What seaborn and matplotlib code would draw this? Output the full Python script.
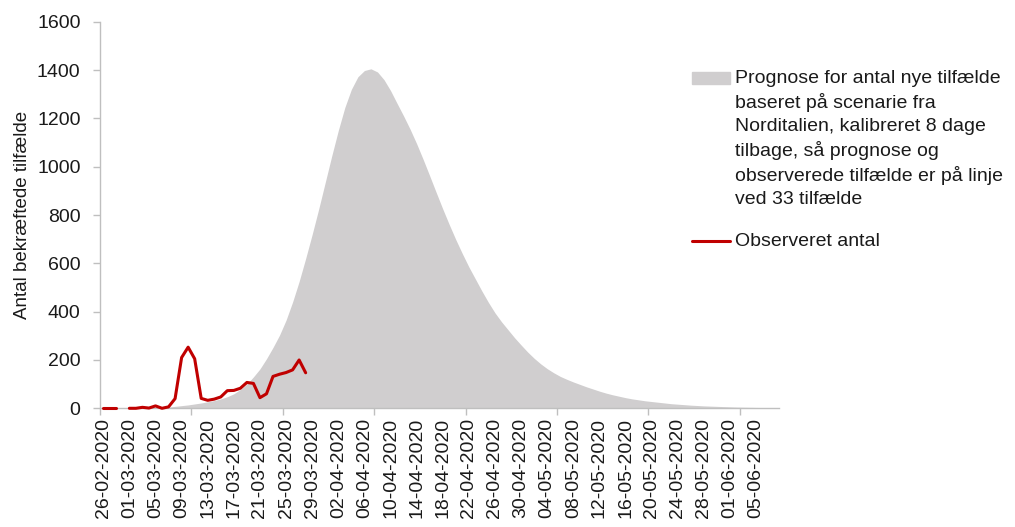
import numpy as np
import pandas as pd
import matplotlib.pyplot as plt
import seaborn as sns
from matplotlib.patches import Rectangle
from matplotlib.lines import Line2D

# days since 26-02-2020 (one category per day, 104 days)
start_date = "2020-02-26"
n_days = 104

# forecast of new cases per day (read from the grey area)
forecast = [
    0, 0, 0, 0, 0, 0, 0, 0, 0, 2,
    5, 8, 11, 14, 18, 22, 27, 32, 39, 48,
    60, 78, 100, 130, 163, 205, 252, 303, 365, 440,
    525, 620, 720, 825, 935, 1045, 1150, 1245, 1320, 1372,
    1398, 1405, 1392, 1360, 1315, 1262, 1210, 1155, 1095, 1030,
    962, 893, 825, 760, 698, 640, 585, 535, 485, 438,
    395, 358, 325, 292, 262, 233, 207, 184, 164, 147,
    132, 120, 109, 99, 89, 80, 71, 63, 56, 50,
    44, 39, 35, 31, 28, 25, 22, 19, 17, 15,
    13, 11.5, 10, 9, 8, 7, 6, 5, 4.5, 4,
    3.5, 3, 2, 1,
]

# observed cases per day (no value on 29-02)
observed = [
    0, 0, 0, np.nan, 0, 0, 4, 1, 10, 0,
    6, 40, 210, 253, 205, 41, 33, 38, 47, 73,
    74, 83, 107, 103, 44, 60, 132, 141, 148, 159,
    200, 147,
]

forecast_label = ("Prognose for antal nye tilfælde\n"
                  "baseret på scenarie fra\n"
                  "Norditalien, kalibreret 8 dage\n"
                  "tilbage, så prognose og\n"
                  "observerede tilfælde er på linje\n"
                  "ved 33 tilfælde")
observed_label = "Observeret antal"
y_label = "Antal bekræftede tilfælde"

dates = pd.date_range(start_date, periods=n_days)
day = np.arange(n_days)
df_obs = pd.DataFrame({"day": day[:len(observed)], "cases": observed})
# break the line where a value is missing
df_obs["segment"] = df_obs["cases"].isna().cumsum()
df_obs = df_obs.dropna()

sns.set_theme(style="white")
plt.rcParams["font.family"] = ["Liberation Sans", "DejaVu Sans"]

grey = "#D0CECF"
red = "#C00000"
axis_col = "#BFBFBF"

fig = plt.figure(figsize=(10.15, 5.27), dpi=100)
ax = fig.add_axes([100 / 1015, 1 - 408.3 / 527, 679 / 1015, 386.6 / 527])

ax.fill_between(day, forecast, color=grey, linewidth=0, zorder=1)
sns.lineplot(data=df_obs, x="day", y="cases", units="segment", color=red,
             linewidth=2.2, estimator=None, sort=False, ax=ax, zorder=3)
for ln in ax.lines:
    ln.set_clip_on(False)

ax.set_xlim(-0.5, n_days - 0.5)
ax.set_ylim(0, 1600)
ax.set_yticks(range(0, 1601, 200))

# labels every 4 days, tick marks every 14 days
label_pos = list(range(0, n_days - 3, 4))
ax.set_xticks(label_pos)
ax.set_xticklabels([dates[i].strftime("%d-%m-%Y") for i in label_pos],
                   rotation=90, fontsize=14)
ax.set_xticks(np.arange(-0.5, n_days, 14), minor=True)
ax.tick_params(axis="x", which="major", length=0, pad=7, colors="#1a1a1a")
ax.tick_params(axis="x", which="minor", length=5, width=1, color=axis_col,
               bottom=True)
ax.tick_params(axis="y", length=5, width=1, color=axis_col, labelcolor="#1a1a1a",
               labelsize=14, pad=9, left=True)

for s in ["top", "right"]:
    ax.spines[s].set_visible(False)
for s in ["left", "bottom"]:
    ax.spines[s].set_color(axis_col)
    ax.spines[s].set_linewidth(1)
    ax.spines[s].set_zorder(2)

ax.set_xlabel("")
ax.set_ylabel(y_label, fontsize=13.5, color="#1a1a1a")
ax.yaxis.set_label_coords(-0.101, 0.5)

# legend to the right, handles at the first line of each label
W, H = 1015, 527
fig.patches.append(Rectangle((692 / W, 1 - 84 / H), 38 / W, 12 / H,
                             transform=fig.transFigure, color=grey, zorder=5))
fig.text(735 / W, 1 - 70 / H, forecast_label, fontsize=14, va="top", ha="left",
         linespacing=1.42, color="#1a1a1a")
fig.lines.append(Line2D([692 / W, 730 / W], [1 - 241 / H, 1 - 241 / H],
                        transform=fig.transFigure, color=red, linewidth=2.2))
fig.text(735 / W, 1 - 241 / H, observed_label, fontsize=14, va="center",
         ha="left", color="#1a1a1a")

fig.savefig("out.png", dpi=100)
